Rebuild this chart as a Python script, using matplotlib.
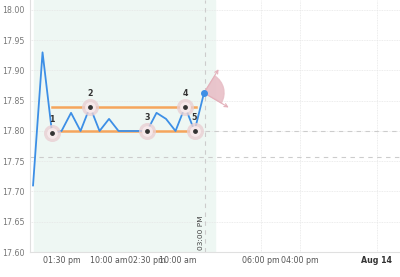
import numpy as np
import matplotlib
matplotlib.use("Agg")
import matplotlib.pyplot as plt
from matplotlib.patches import Wedge
from matplotlib.transforms import ScaledTranslation

# price series (one point per bar, ordinal x axis)
prices = [17.71, 17.93, 17.797, 17.80, 17.83, 17.80, 17.84, 17.80, 17.82, 17.80,
          17.80, 17.80, 17.80, 17.83, 17.82, 17.80, 17.84, 17.80, 17.863]

# pattern points (index into prices) and their labels
pattern_idx = [2, 6, 12, 16, 17]
pattern_lbl = ["1", "2", "3", "4", "5"]

# channel lines
top_level = 17.84
bottom_level = 17.80
channel_start = 2
channel_end = 17.2

# reference levels
dash_level = 17.757
now_idx = 18.1
now_label = "03:00 PM"

tick_pos = [3, 8, 12, 15.2, 24, 28.1, 36.2]
tick_lbl = ["01:30 pm", "10:00 am", "02:30 pm", "10:00 am", "06:00 pm", "04:00 pm", "Aug 14"]
yticks = [17.60, 17.65, 17.70, 17.75, 17.80, 17.85, 17.90, 17.95, 18.00]

x = np.arange(len(prices))

fig = plt.figure(figsize=(4, 2.77), dpi=100)
ax = fig.add_axes([30/400, 25/277, 370/400, 252/277])
ax.set_xlim(-0.32, 38.63)
ax.set_ylim(17.60, 18.0165)

# shaded history zone
ax.axvspan(0.05, 19.15, color="#eef7f3", zorder=0)

# grid
for yt in yticks:
    ax.axhline(yt, color="#e6e6e6", lw=0.6, ls=(0, (1, 1)), zorder=0.5)
for xt in tick_pos[4:]:
    ax.axvline(xt, color="#e6e6e6", lw=0.6, ls=(0, (1, 1)), zorder=0.5)

# dashed reference lines
ax.axhline(dash_level, color="#cccccc", lw=0.8, ls=(0, (4, 4)), zorder=1)
ax.axvline(now_idx, color="#cccccc", lw=0.8, ls=(0, (4, 4)), zorder=1)
ax.plot([now_idx, 38.63], [bottom_level, bottom_level], color="#cccccc", lw=0.8, ls=(0, (4, 4)), zorder=1)

# channel
ax.plot([channel_start, channel_end], [top_level, top_level], color="#f5a55c", lw=1.8, zorder=2)
ax.plot([channel_start, channel_end], [bottom_level, bottom_level], color="#f5a55c", lw=1.8, zorder=2)

# price line
ax.plot(x, prices, color="#3d8fe6", lw=1.3, zorder=3)
ax.scatter([x[-1]], [prices[-1]], s=16, color="#3d8fe6", zorder=4)

# pattern points
px = [x[i] for i in pattern_idx]
py = [prices[i] for i in pattern_idx]
ax.scatter(px, py, s=150, color="#e9cfd3", alpha=0.8, zorder=4, linewidths=0)
ax.scatter(px, py, s=60, color="#f6e9eb", zorder=4, linewidths=0)
ax.scatter(px, py, s=6, color="#333333", zorder=5)
for xx, yy, lb in zip(px, py, pattern_lbl):
    ax.annotate(lb, (xx, yy), xytext=(0, 9), textcoords="offset pixels", ha="center",
                va="bottom", fontsize=5.7, color="#333333", fontweight="bold", zorder=6)

# projection fan at last point
trans = fig.dpi_scale_trans + ScaledTranslation(x[-1], prices[-1], ax.transData)
ax.add_patch(Wedge((0, 0), 0.2, -30, 57, transform=trans, color="#e8bfc7", alpha=0.9, zorder=2))
for dx, dy in [(16, 26), (27, -16)]:
    ax.annotate("", xy=(x[-1], prices[-1]), xytext=(dx, dy), textcoords="offset pixels",
                arrowprops=dict(arrowstyle="<-", color="#e3b0ba", lw=0.8, mutation_scale=6), zorder=2)

ax.text(now_idx - 0.45, 17.603, now_label, rotation=90, ha="center", va="bottom",
        fontsize=5.3, color="#444444")

# axes styling
for s in ["top", "right"]:
    ax.spines[s].set_visible(False)
ax.spines["left"].set_color("#e0e0e0")
ax.spines["bottom"].set_color("#e0e0e0")
ax.set_yticks(yticks)
ax.set_yticklabels([f"{v:.2f}" for v in yticks], fontsize=5.7, color="#777777")
ax.set_xticks(tick_pos)
ax.set_xticklabels(tick_lbl, fontsize=5.7, color="#555555")
ax.get_xticklabels()[-1].set_fontweight("bold")
ax.get_xticklabels()[-1].set_color("#333333")
ax.tick_params(length=0, pad=3)
ax.tick_params(axis="y", pad=4)

fig.savefig("out.png", dpi=100)
